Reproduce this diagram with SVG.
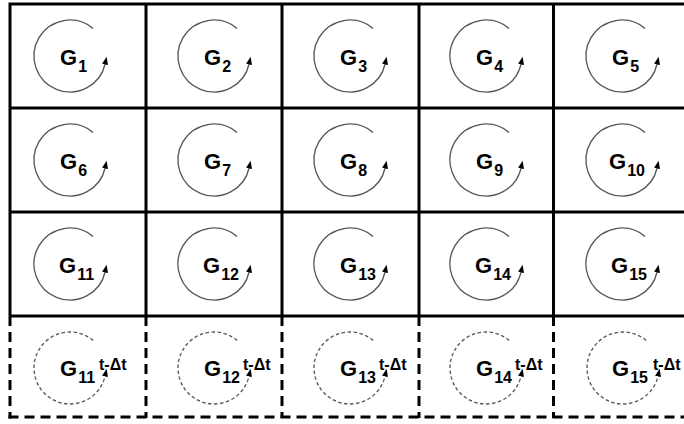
<svg xmlns="http://www.w3.org/2000/svg" xmlns:xlink="http://www.w3.org/1999/xlink" width="684" height="424" viewBox="0 0 684 424">
<style>
.grid{stroke:#000;stroke-width:3;fill:none}
.dash{stroke:#000;stroke-width:3;fill:none;stroke-dasharray:10 6}
.g{font-family:"Liberation Sans",Arial,sans-serif;font-weight:bold;font-size:22px;fill:#000}
.s{font-size:16px}
.sup{font-family:"Liberation Sans",Arial,sans-serif;font-weight:bold;font-size:16px;fill:#000}
</style>
<defs>
<marker id="ah" viewBox="0 0 8 6" refX="1" refY="3" markerWidth="8" markerHeight="6" markerUnits="userSpaceOnUse" orient="auto">
<path d="M0,0 L8,3 L0,6 z" fill="#000"/>
</marker>
<path id="arc" d="M23.1,-27.6 A36,36 0 1 0 35.2,7.5" fill="none" stroke="#555" stroke-width="1.3" marker-end="url(#ah)"/>
<path id="arcd" d="M23.1,-27.6 A36,36 0 1 0 35.2,7.5" fill="none" stroke="#555" stroke-width="1.3" stroke-dasharray="3.5 2.5" marker-end="url(#ah)"/>
</defs>
<rect width="684" height="424" fill="#fff"/>
<g id="connectors">
<path class="grid" d="M10,4 H684 M10,108 H684 M10,212 H684 M10,316 H684 M10,2.5 V316 M146,2.5 V316 M282,2.5 V316 M419,2.5 V316 M553.5,2.5 V316"/>
<path class="dash" d="M10,316 V418.5 M146,316 V418 M282,316 V418 M419,316 V418 M553.5,316 V418"/>
<path class="dash" d="M8.5,417 H684"/>
</g>
<g id="n1"><use xlink:href="#arc" x="70" y="56"/><text class="g" x="60" y="64.5">G<tspan class="s" dx="1" dy="7">1</tspan></text></g>
<g id="n2"><use xlink:href="#arc" x="214" y="56"/><text class="g" x="204" y="64.5">G<tspan class="s" dx="1" dy="7">2</tspan></text></g>
<g id="n3"><use xlink:href="#arc" x="350" y="56"/><text class="g" x="340" y="64.5">G<tspan class="s" dx="1" dy="7">3</tspan></text></g>
<g id="n4"><use xlink:href="#arc" x="486" y="56"/><text class="g" x="476" y="64.5">G<tspan class="s" dx="1" dy="7">4</tspan></text></g>
<g id="n5"><use xlink:href="#arc" x="622" y="56"/><text class="g" x="612" y="64.5">G<tspan class="s" dx="1" dy="7">5</tspan></text></g>
<g id="n6"><use xlink:href="#arc" x="70" y="160"/><text class="g" x="60" y="168.5">G<tspan class="s" dx="1" dy="7">6</tspan></text></g>
<g id="n7"><use xlink:href="#arc" x="214" y="160"/><text class="g" x="204" y="168.5">G<tspan class="s" dx="1" dy="7">7</tspan></text></g>
<g id="n8"><use xlink:href="#arc" x="350" y="160"/><text class="g" x="340" y="168.5">G<tspan class="s" dx="1" dy="7">8</tspan></text></g>
<g id="n9"><use xlink:href="#arc" x="486" y="160"/><text class="g" x="476" y="168.5">G<tspan class="s" dx="1" dy="7">9</tspan></text></g>
<g id="n10"><use xlink:href="#arc" x="622" y="160"/><text class="g" x="609" y="168.5">G<tspan class="s" dx="1" dy="7">10</tspan></text></g>
<g id="n11"><use xlink:href="#arc" x="70" y="264"/><text class="g" x="59" y="272.5">G<tspan class="s" dx="1" dy="7">11</tspan></text></g>
<g id="n12"><use xlink:href="#arc" x="214" y="264"/><text class="g" x="203" y="272.5">G<tspan class="s" dx="1" dy="7">12</tspan></text></g>
<g id="n13"><use xlink:href="#arc" x="350" y="264"/><text class="g" x="340" y="272.5">G<tspan class="s" dx="1" dy="7">13</tspan></text></g>
<g id="n14"><use xlink:href="#arc" x="486" y="264"/><text class="g" x="475" y="272.5">G<tspan class="s" dx="1" dy="7">14</tspan></text></g>
<g id="n15"><use xlink:href="#arc" x="622" y="264"/><text class="g" x="611" y="272.5">G<tspan class="s" dx="1" dy="7">15</tspan></text></g>
<g id="n16"><use xlink:href="#arcd" x="70" y="368"/><text class="g" x="60" y="376">G<tspan class="s" dx="1" dy="7">11</tspan></text><text class="sup" x="99" y="370">t-Δt</text></g>
<g id="n17"><use xlink:href="#arcd" x="214" y="368"/><text class="g" x="204" y="376">G<tspan class="s" dx="1" dy="7">12</tspan></text><text class="sup" x="243" y="370">t-Δt</text></g>
<g id="n18"><use xlink:href="#arcd" x="350" y="368"/><text class="g" x="340" y="376">G<tspan class="s" dx="1" dy="7">13</tspan></text><text class="sup" x="379" y="370">t-Δt</text></g>
<g id="n19"><use xlink:href="#arcd" x="486" y="368"/><text class="g" x="476" y="376">G<tspan class="s" dx="1" dy="7">14</tspan></text><text class="sup" x="515" y="370">t-Δt</text></g>
<g id="n20"><use xlink:href="#arcd" x="623" y="368"/><text class="g" x="612" y="376">G<tspan class="s" dx="1" dy="7">15</tspan></text><text class="sup" x="653" y="370">t-Δt</text></g>
</svg>
